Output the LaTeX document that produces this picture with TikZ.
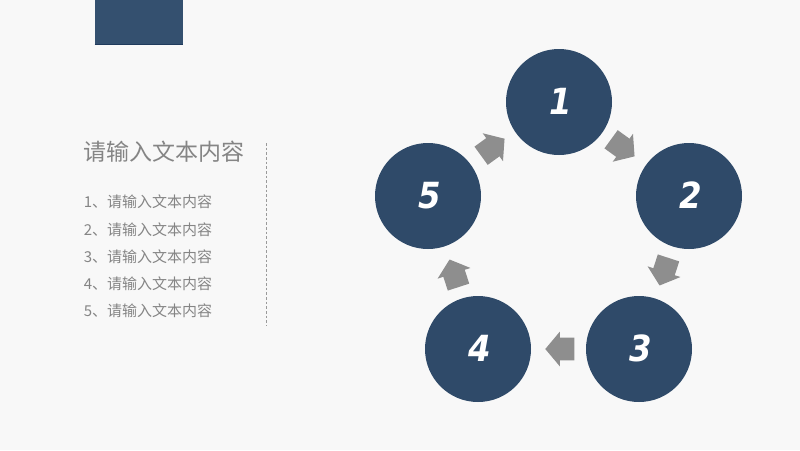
\documentclass[tikz,border=0pt]{standalone}
\usepackage{fontspec}
\usetikzlibrary{shapes.arrows}
\newfontfamily\cjk{Noto Sans CJK SC}
\newfontfamily\numfont{DejaVu Sans Condensed}
\newcommand{\numtext}[1]{\raisebox{1pt}{\kern 3pt #1}}
\definecolor{navy}{HTML}{2F4A69}
\definecolor{navyrect}{HTML}{34506F}
\definecolor{navyedge}{HTML}{1F3A5C}
\definecolor{greytext}{HTML}{858585}
\definecolor{greydash}{HTML}{9A9A9A}
\definecolor{greyarrow}{HTML}{8E8E8E}
\definecolor{paper}{HTML}{F8F8F8}
\tikzset{
  x=0.75pt,y=-0.75pt,
  numcircle/.style={circle,fill=navy,inner sep=0pt,minimum size=79.5pt,text=white,
    font=\numfont\bfseries\itshape\fontsize{27}{27}\selectfont},
  flow/.style={single arrow,fill=greyarrow,inner sep=0pt,outer sep=0pt,
    text height=16.5pt,text depth=0pt,
    minimum height=21.75pt,minimum width=25.5pt,single arrow head extend=4.5pt,
    single arrow tip angle=100},
  heading/.style={anchor=west,inner sep=0pt,text=greytext,font=\cjk\fontsize{17.25}{17.25}\selectfont},
  item/.style={anchor=west,inner sep=0pt,text=greytext,font=\cjk\fontsize{11.25}{11.25}\selectfont}
}
\begin{document}
\begin{tikzpicture}
\useasboundingbox (0,0) rectangle (800,450);
\fill[paper] (0,0) rectangle (800,450);
\fill[navyrect] (94.5,0) rectangle (182.5,45);
\draw[navyedge,line width=0.75pt] (94.5,44.6) -- (182.5,44.6);
\node[heading] (title) at (83,152) {请输入文本内容};
\node[item] (i1) at (83.5,202) {1、请输入文本内容};
\node[item] (i2) at (83.5,229.5) {2、请输入文本内容};
\node[item] (i3) at (83.5,256.5) {3、请输入文本内容};
\node[item] (i4) at (83.5,283.5) {4、请输入文本内容};
\node[item] (i5) at (83.5,310.5) {5、请输入文本内容};
\coordinate (dtop) at (266.5,143);
\coordinate (dbot) at (266.5,326);
\draw[greydash,line width=0.6pt,dash pattern=on 2pt off 1.5pt] (dtop) -- (dbot);
\node[numcircle] (n1) at (559,102) {\numtext{1}};
\node[numcircle] (n2) at (689,196) {\numtext{2}};
\node[numcircle] (n3) at (639,349) {\numtext{3}};
\node[numcircle] (n4) at (478,349) {\numtext{4}};
\node[numcircle] (n5) at (428,196) {\numtext{5}};
\node[flow,rotate=-36] (a12) at (619,145) {};
\node[flow,rotate=-108] (a23) at (665.5,267.2) {};
\node[flow,rotate=180] (a34) at (564.5,349) {};
\node[flow,rotate=108] (a45) at (455.5,277.8) {};
\node[flow,rotate=36] (a51) at (489,150) {};
\end{tikzpicture}
\end{document}
